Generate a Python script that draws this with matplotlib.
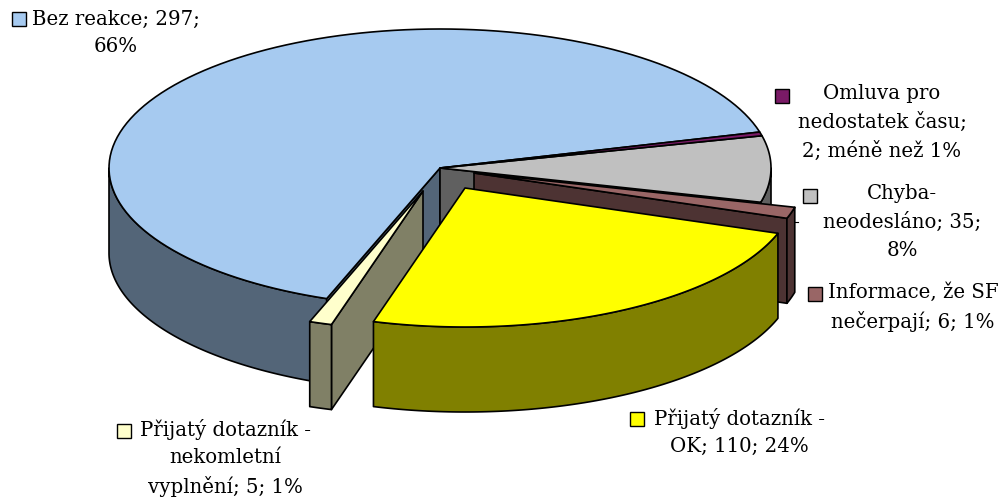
import matplotlib
matplotlib.use('Agg')
import matplotlib.pyplot as plt
from matplotlib.patches import Polygon, Rectangle
from matplotlib.colors import to_rgb
import numpy as np

# counter-clockwise from the upper right edge of the big slice
kategorie = ['Bez reakce', 'Přijatý dotazník - nekomletní vyplnění', 'Přijatý dotazník - OK',
             'Informace, že SF nečerpají', 'Chyba-neodesláno', 'Omluva pro nedostatek času']
hodnoty = [297, 5, 110, 6, 35, 2]
popisky = ['Bez reakce; 297;\n66%',
           'Přijatý dotazník -\nnekomletní\nvyplnění; 5; 1%',
           'Přijatý dotazník -\nOK; 110; 24%',
           'Informace, že SF\nnečerpají; 6; 1%',
           'Chyba-\nneodesláno; 35;\n8%',
           'Omluva pro\nnedostatek času;\n2; méně než 1%']

barvy = ['#A6CAF0', '#FFFFCC', '#FFFF00', '#996666', '#C0C0C0', '#7A1A66']
posuny = [(0, 0), (-17, 23), (25, 20), (34, 5), (0, 0), (0, 0)]
text_xy = [(116, 33), (225, 458), (739, 432), (913, 307), (902, 222), (882, 122)]
ctverce = [(12, 12), (117, 424), (630, 412), (808, 287), (803, 189), (775, 89)]

CX, CY, RX, RY = 440, 168, 331, 139
HLOUBKA = 85
START = 15

hrany = START + np.concatenate([[0], np.cumsum(hodnoty)]) / sum(hodnoty) * 360


def oblouk(t0, t1, dx, dy):
    t = np.radians(np.linspace(t0, t1, 120))
    return np.column_stack([CX + dx + RX * np.cos(t), CY + dy - RY * np.sin(t)])


def tmava(barva):
    return tuple(c * 0.5 for c in to_rgb(barva))


def kresli(ax, body, barva):
    ax.add_patch(Polygon(body, closed=True, facecolor=barva, edgecolor='black', linewidth=1.2, joinstyle='round'))


def vrch(ax, i):
    dx, dy = posuny[i]
    body = np.vstack([[[CX + dx, CY + dy]], oblouk(hrany[i], hrany[i + 1], dx, dy)])
    kresli(ax, body, barvy[i])


def bok(ax, i, t0, t1):
    dx, dy = posuny[i]
    a = oblouk(t0, t1, dx, dy)
    kresli(ax, np.vstack([a, a[::-1] + [0, HLOUBKA]]), tmava(barvy[i]))


def rez(ax, i, t):
    dx, dy = posuny[i]
    a = oblouk(t, t, dx, dy)[0]
    s = [CX + dx, CY + dy]
    kresli(ax, [s, a, a + [0, HLOUBKA], [s[0], s[1] + HLOUBKA]], tmava(barvy[i]))


fig = plt.figure(figsize=(10, 4.97), dpi=100)
ax = fig.add_axes([0, 0, 1, 1])
ax.set_xlim(0, 1000)
ax.set_ylim(497, 0)
ax.axis('off')

# zadni cast kolace
bok(ax, 0, 180, hrany[1])
rez(ax, 0, hrany[1])
rez(ax, 4, hrany[4])
bok(ax, 4, hrany[4], 360)
vrch(ax, 0)
vrch(ax, 4)
vrch(ax, 5)

# vysunute vysece, odzadu dopredu
rez(ax, 3, hrany[3])
bok(ax, 3, hrany[3], hrany[4])
vrch(ax, 3)

rez(ax, 1, hrany[2])
bok(ax, 1, hrany[1], hrany[2])
vrch(ax, 1)

bok(ax, 2, hrany[2], hrany[3])
vrch(ax, 2)

ax.plot([795, 798], [222, 222], color='black', linewidth=0.8)

for i in range(len(hodnoty)):
    x, y = ctverce[i]
    ax.add_patch(Rectangle((x, y), 14, 14, facecolor=barvy[i], edgecolor='black', linewidth=1.0))
    ax.text(text_xy[i][0], text_xy[i][1], popisky[i], ha='center', va='center', multialignment='center',
            family='DejaVu Serif', fontsize=14.2, linespacing=1.55, color='black')

plt.savefig('out.png', dpi=100)
